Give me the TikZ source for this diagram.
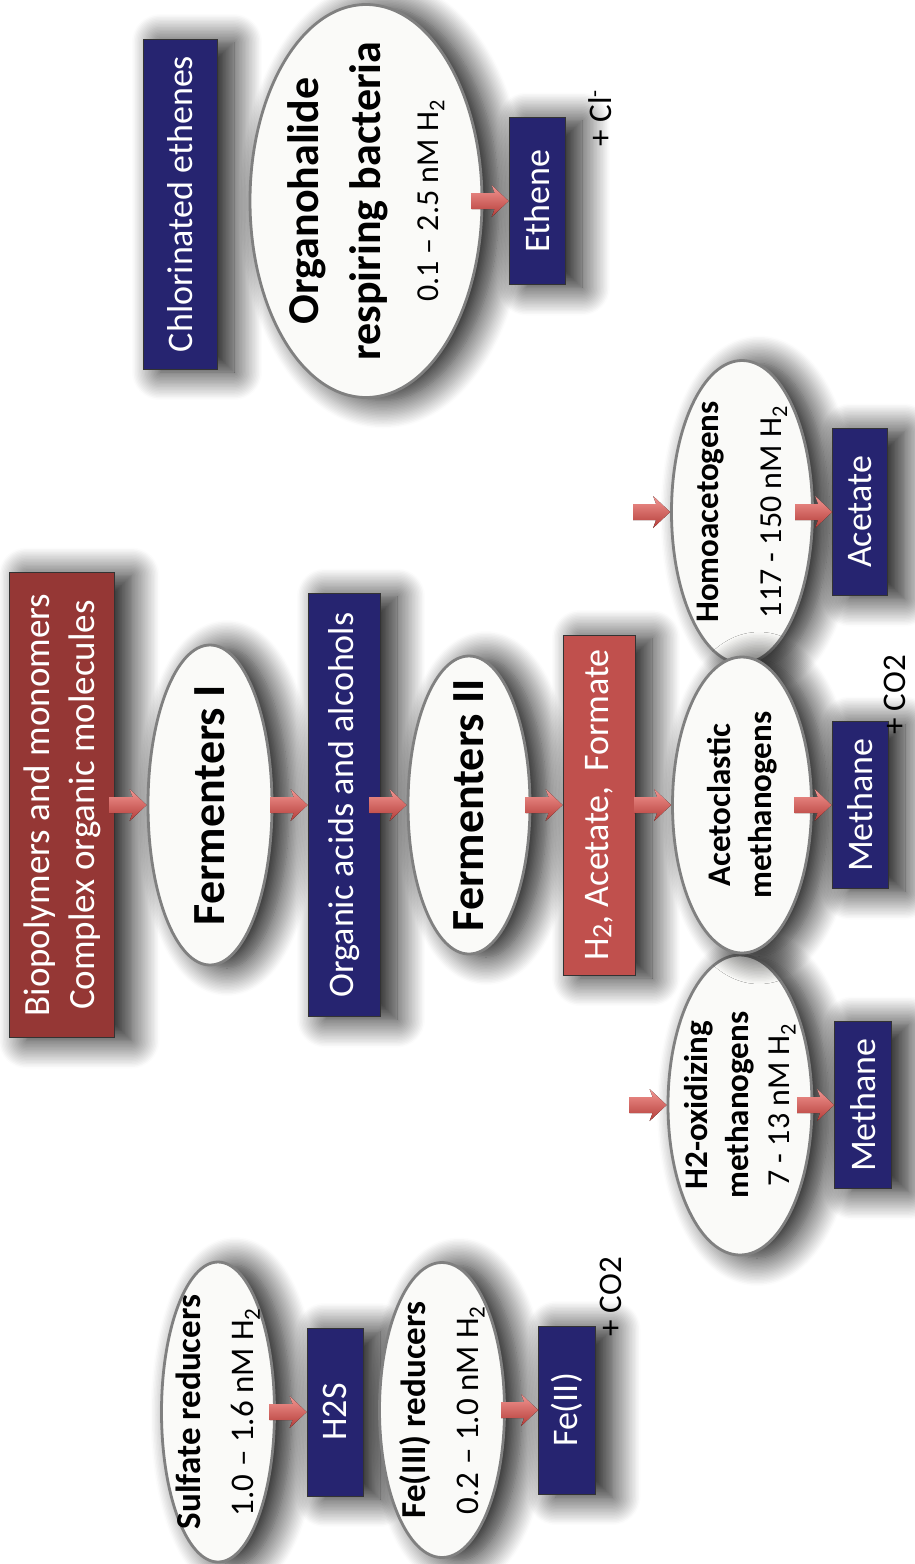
\documentclass[tikz,border=0pt]{standalone}
\usepackage{fontspec}
\setmainfont{Carlito}
\usetikzlibrary{shapes.geometric}
\usetikzlibrary{shadows.blur}
\usetikzlibrary{decorations.markings}

\definecolor{brick}{RGB}{149,55,53}
\definecolor{navybox}{RGB}{38,36,112}
\definecolor{rosebox}{RGB}{192,80,77}
\definecolor{cellfill}{RGB}{250,250,248}
\definecolor{cellline}{RGB}{128,128,128}
\definecolor{arrowtop}{RGB}{242,150,146}
\definecolor{arrowbot}{RGB}{180,60,56}

\begin{document}
\begin{tikzpicture}[x=1pt, y=-1pt,
  soft/.style={blur shadow={shadow xshift=17pt, shadow yshift=-3pt,
    shadow blur radius=28pt, shadow blur steps=20, shadow opacity=95}},
  tag/.style={rectangle, draw=black!80, line width=0.8pt, fill=navybox,
    text=white, rotate=90, inner sep=0pt, align=center,
    font=\fontsize{36}{44}\selectfont, soft},
  cell/.style={ellipse, draw=cellline, line width=2.8pt, fill=cellfill,
    rotate=90, inner sep=-60pt, align=center,
    font=\bfseries\fontsize{33}{41}\selectfont, soft},
  plus/.style={rotate=90, inner sep=0pt, anchor=base,
    font=\fontsize{33}{40}\selectfont},
  flow/.style={decoration={markings, mark=at position 1 with {
    \fill[top color=arrowtop, bottom color=arrowbot]
      (0pt,0pt) -- (-17pt,16pt) -- (-14pt,8pt) -- (-37pt,8pt)
      -- (-37pt,-8pt) -- (-14pt,-8pt) -- (-17pt,-16pt) -- cycle;}},
    postaction={decorate}}]
\useasboundingbox (0,0) rectangle (914,1564);

% fermentation chain
\node[tag, fill=brick, minimum width=465, minimum height=105,
  font=\fontsize{37}{45}\selectfont] (bio) at (62,805)
  {Biopolymers and monomers\\Complex organic molecules};
\node[cell, minimum width=320, minimum height=124,
  font=\bfseries\fontsize{46}{50}\selectfont] (ferm1) at (210,805) {Fermenters I};
\node[tag, minimum width=423, minimum height=72] (acids) at (344,805)
  {Organic acids and alcohols};
\node[cell, minimum width=298, minimum height=122,
  font=\bfseries\fontsize{46}{50}\selectfont] (ferm2) at (469,805) {Fermenters II};
\node[tag, fill=rosebox, minimum width=340, minimum height=72] (hfa) at (599,805)
  {H\raisebox{-3pt}{\fontsize{28}{28}\selectfont 2}, Acetate,\, Formate};

% methanogens and homoacetogens
\node[cell, minimum width=303, minimum height=141] (homo) at (742,512)
  {Homoacetogens\\[22pt]{\mdseries\fontsize{32}{40}\selectfont 117 - 150 nM H\textsubscript{2}}};
\node[tag, minimum width=167, minimum height=55] (acet) at (860,512) {Acetate};

\node[cell, minimum width=300, minimum height=144] (h2ox) at (740,1105)
  {H2-oxidizing\\methanogens\\{\mdseries\fontsize{32}{40}\selectfont 7 - 13 nM H\textsubscript{2}}};
\node[tag, minimum width=167, minimum height=57] (meth2) at (863,1105) {Methane};

\node[cell, minimum width=296, minimum height=139] (aceto) at (742,805)
  {Acetoclastic\\methanogens};
\node[tag, minimum width=167, minimum height=56] (meth1) at (860,805) {Methane};
\node[plus] (co2a) at (905,695) {+ CO2};

\coordinate (inH) at (630,1105);
\coordinate (inA) at (630,512);

% dechlorination
\node[tag, minimum width=330, minimum height=74] (chlor) at (180,204)
  {Chlorinated ethenes};
\node[cell, minimum width=393, minimum height=232,
  font=\bfseries\fontsize{44}{62}\selectfont] (orhal) at (366,201)
  {Organohalide\\respiring bacteria\\[-4pt]{\mdseries\fontsize{32}{40}\selectfont 0.1 -- 2.5 nM H\textsubscript{2}}};
\node[tag, minimum width=167, minimum height=56] (ethene) at (537,201) {Ethene};
\node[plus] (cl) at (611,118) {+ Cl\textsuperscript{-}};

% sulfate and iron reducers
\node[cell, minimum width=300, minimum height=113,
  font=\bfseries\fontsize{35}{43}\selectfont] (sulf) at (218,1412)
  {Sulfate reducers\\[10pt]{\mdseries\fontsize{33}{40}\selectfont 1.0 -- 1.6 nM H\textsubscript{2}}};
\node[tag, minimum width=168, minimum height=56] (h2s) at (335,1412) {H2S};
\node[cell, minimum width=295, minimum height=125,
  font=\bfseries\fontsize{35}{43}\selectfont] (fe3) at (442,1410)
  {Fe(III) reducers\\[10pt]{\mdseries\fontsize{33}{40}\selectfont 0.2 -- 1.0 nM H\textsubscript{2}}};
\node[tag, minimum width=168, minimum height=57] (fe2) at (567,1410) {Fe(II)};
\node[plus] (co2b) at (621,1297) {+ CO2};

\path[flow] (bio) -- (ferm1);
\path[flow] (ferm1) -- (acids);
\path[flow] (acids) -- (ferm2);
\path[flow] (ferm2) -- (hfa);
\path[flow] (hfa) -- (aceto);
\path[flow] (aceto) -- (meth1);
\path[flow] (inH) -- (h2ox);
\path[flow] (h2ox) -- (meth2);
\path[flow] (inA) -- (homo);
\path[flow] (homo) -- (acet);
\path[flow] (orhal) -- (ethene);
\path[flow] (sulf) -- (h2s);
\path[flow] (fe3) -- (fe2);
\end{tikzpicture}
\end{document}
